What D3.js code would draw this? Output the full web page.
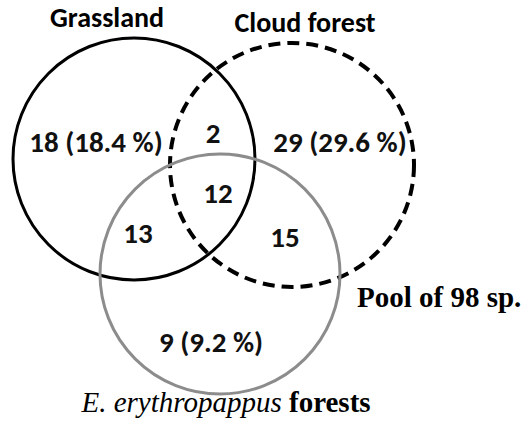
<!DOCTYPE html>
<html>
<head>
<meta charset="utf-8">
<script src="https://cdn.jsdelivr.net/npm/d3@7"></script>
<style>
  body { margin: 0; background: #fff; }
  svg { display: block; }
</style>
</head>
<body>
<svg id="chart" width="528" height="438"></svg>
<script>
// sets of the venn diagram
const setNames = ["Grassland", "Cloud forest", "E. erythropappus forests"];
// region counts: only-A, only-B, only-C, A&B, A&C, B&C, A&B&C
const regionKeys = ["A", "B", "C", "AB", "AC", "BC", "ABC"];
const regionCounts = [18, 29, 9, 2, 13, 15, 12];
const poolSize = 98;

const svg = d3.select("#chart");
const total = d3.sum(regionCounts);
const pct = d3.format(".1f");

// circle layout (pixels)
const circles = [
    { cx: 134, cy: 159, r: 121, stroke: "#000", dash: null, width: 3 },
    { cx: 292, cy: 165, r: 122, stroke: "#000", dash: "12,7", width: 4 },
    { cx: 220, cy: 274, r: 120, stroke: "#8c8c8c", dash: null, width: 3 }
];

// label anchors per region
const labelPos = {
    A: [96, 152], B: [340, 152], C: [211, 352],
    AB: [213, 143], AC: [138, 243], BC: [285, 247], ABC: [218, 203]
};

svg.append("g")
    .selectAll("circle")
    .data(circles)
    .enter().append("circle")
    .attr("cx", d => d.cx)
    .attr("cy", d => d.cy)
    .attr("r", d => d.r)
    .attr("fill", "none")
    .attr("stroke", d => d.stroke)
    .attr("stroke-width", d => d.width)
    .attr("stroke-dasharray", d => d.dash);

const sans = "Carlito, Lato, 'Open Sans', sans-serif";

svg.append("g")
    .selectAll("text")
    .data(regionKeys.map((k, i) => ({ key: k, n: regionCounts[i] })))
    .enter().append("text")
    .attr("x", d => labelPos[d.key][0])
    .attr("y", d => labelPos[d.key][1])
    .attr("text-anchor", "middle")
    .attr("font-family", sans)
    .attr("font-weight", "bold")
    .attr("font-size", 29)
    .attr("fill", "#111")
    .text(d => d.key.length === 1 ? `${d.n} (${pct(d.n / total * 100)} %)` : d.n);

// set titles
svg.append("text")
    .attr("x", 107).attr("y", 27)
    .attr("text-anchor", "middle")
    .attr("font-family", sans).attr("font-weight", "bold").attr("font-size", 28)
    .text(setNames[0]);

svg.append("text")
    .attr("x", 305).attr("y", 32)
    .attr("text-anchor", "middle")
    .attr("font-family", sans).attr("font-weight", "bold").attr("font-size", 28)
    .text(setNames[1]);

const serif = "'Liberation Serif', 'Times New Roman', serif";
const third = svg.append("text")
    .attr("x", 226).attr("y", 412)
    .attr("text-anchor", "middle")
    .attr("font-family", serif).attr("font-size", 29);
const parts = setNames[2].split(" forests");
third.append("tspan").attr("font-style", "italic").text(parts[0] + " ");
third.append("tspan").attr("font-weight", "bold").text("forests");

svg.append("text")
    .attr("x", 357).attr("y", 307)
    .attr("font-family", serif).attr("font-weight", "bold").attr("font-size", 29)
    .text(`Pool of ${poolSize} sp.`);
</script>
</body>
</html>
